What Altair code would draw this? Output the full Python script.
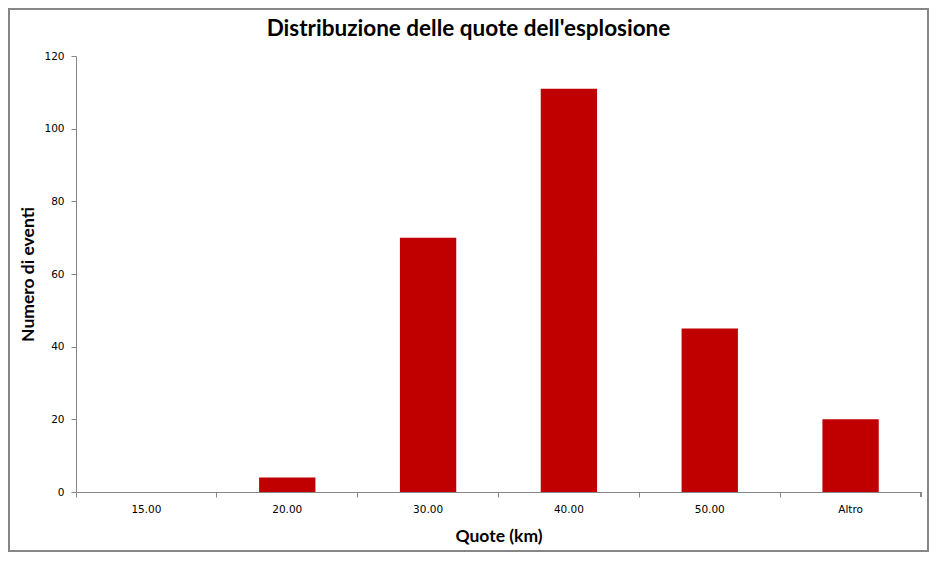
import altair as alt
import pandas as pd

categories = ["15.00", "20.00", "30.00", "40.00", "50.00", "Altro"]
values = [0, 4, 70, 111, 45, 20]

df = pd.DataFrame({"Quote": categories, "Eventi": values})

W, H = 845, 436
PL, PT, PR, PB = 68, 48, 8, 60

bars = alt.Chart(df).mark_bar(color="#C00000", width=alt.RelativeBandSize(0.4)).encode(
    x=alt.X("Quote:N", sort=categories,
            scale=alt.Scale(paddingInner=0, paddingOuter=0),
            axis=alt.Axis(title="Quote (km)", labelAngle=0, bandPosition=0,
                          tickSize=5, labelPadding=7, labelFont="DejaVu Sans",
                          labelFontSize=10.5, labelColor="#000000",
                          domainColor="#868686", tickColor="#868686",
                          titleFont="Lato", titleFontSize=17.5, titleFontWeight="bold",
                          titleColor="#000000", titlePadding=13)),
    y=alt.Y("Eventi:Q", scale=alt.Scale(domain=[0, 120], nice=False),
            axis=alt.Axis(title="Numero di eventi", values=[0, 20, 40, 60, 80, 100, 120],
                          grid=False, tickSize=5, labelPadding=7,
                          labelFont="DejaVu Sans", labelFontSize=10.5, labelColor="#000000",
                          domainColor="#868686", tickColor="#868686",
                          titleFont="Lato", titleFontSize=17.5, titleFontWeight="bold",
                          titleColor="#000000", titleX=-39, titleY=H / 2)),
)

end_tick = alt.Chart(df).mark_rule(color="#868686").encode(
    x=alt.value(W), y=alt.value(H), y2=alt.value(H + 5)
)

frame = alt.Chart(df).mark_rect(fill=None, stroke="#868686", strokeWidth=1.5).encode(
    x=alt.value(-PL + 1), x2=alt.value(W + PR - 1),
    y=alt.value(-PT + 1), y2=alt.value(H + PB - 1)
)

chart = alt.layer(bars, end_tick, frame).properties(
    width=W, height=H,
    title=alt.Title("Distribuzione delle quote dell'esplosione", font="Lato",
                    fontSize=22.5, fontWeight="bold", color="#000000",
                    anchor="middle", frame="bounds", offset=-32),
    autosize=alt.AutoSizeParams(type="none"),
    padding={"left": PL, "top": PT, "right": PR, "bottom": PB},
).configure_view(stroke=None)

chart.save("out.html", embed_options={"renderer": "svg", "actions": False})
